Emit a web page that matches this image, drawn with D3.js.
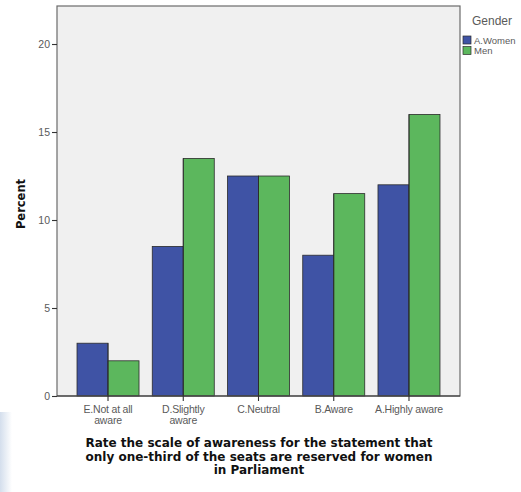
<!DOCTYPE html>
<html>
<head>
<meta charset="utf-8">
<script src="https://cdn.jsdelivr.net/npm/d3@7"></script>
<style>
  html, body { margin: 0; padding: 0; background: #ffffff; }
  svg { display: block; }
</style>
</head>
<body>
<script>
const categories = ["E.Not at all aware", "D.Slightly aware", "C.Neutral", "B.Aware", "A.Highly aware"];
const categoryLines = [["E.Not at all", "aware"], ["D.Slightly", "aware"], ["C.Neutral"], ["B.Aware"], ["A.Highly aware"]];
const seriesNames = ["A.Women", "Men"];
const womenValues = [3.0, 8.5, 12.5, 8.0, 12.0];
const menValues = [2.0, 13.5, 12.5, 11.5, 16.0];
const yTicks = [0, 5, 10, 15, 20];
const legendTitle = "Gender";
const yTitle = "Percent";
const xTitleLines = ["Rate the scale of awareness for the statement that", "only one-third of the seats are reserved for women", "in Parliament"];

const W = 521, H = 492;
const plot = { left: 57, right: 460, top: 6, bottom: 396 };
const colors = ["#3f53a5", "#5cb75d"];

const svg = d3.select("body").append("svg").attr("width", W).attr("height", H);

// faint artifact at bottom-left
const defs = svg.append("defs");
const grad = defs.append("linearGradient").attr("id", "lb").attr("x1", 0).attr("x2", 1).attr("y1", 0).attr("y2", 0);
grad.append("stop").attr("offset", "0%").attr("stop-color", "#c9d6e8");
grad.append("stop").attr("offset", "100%").attr("stop-color", "#ffffff");
svg.append("rect").attr("x", 0).attr("y", 412).attr("width", 12).attr("height", 80).attr("fill", "url(#lb)").attr("opacity", 0.8);

const x = d3.scaleBand().domain(categories).range([plot.left, plot.right]).paddingInner(0.176).paddingOuter(0.266);
const xs = d3.scaleBand().domain(seriesNames).range([0, x.bandwidth()]);
const y = d3.scaleLinear().domain([0, 22.16]).range([plot.bottom, plot.top]);

// plot background
svg.append("rect").attr("x", plot.left).attr("y", plot.top)
  .attr("width", plot.right - plot.left).attr("height", plot.bottom - plot.top)
  .attr("fill", "#f0f0f0");

const rows = categories.map((c, i) => ({ cat: c, vals: [womenValues[i], menValues[i]] }));
const g = svg.append("g");
rows.forEach(r => {
  r.vals.forEach((v, j) => {
    g.append("rect")
      .attr("x", x(r.cat) + xs(seriesNames[j]))
      .attr("y", y(v))
      .attr("width", xs.bandwidth())
      .attr("height", y(0) - y(v))
      .attr("fill", colors[j])
      .attr("stroke", "#2b2b2b")
      .attr("stroke-width", 0.8);
  });
});

// plot frame
svg.append("rect").attr("x", plot.left).attr("y", plot.top)
  .attr("width", plot.right - plot.left).attr("height", plot.bottom - plot.top)
  .attr("fill", "none").attr("stroke", "#6b6b6b").attr("stroke-width", 1.2);

const tickFont = "Liberation Sans, Arial, sans-serif";

// y axis
const yAxis = svg.append("g").attr("transform", `translate(${plot.left},0)`)
  .call(d3.axisLeft(y).tickValues(yTicks).tickSize(5).tickPadding(2));
yAxis.select(".domain").remove();
yAxis.selectAll("line").attr("stroke", "#333").attr("stroke-width", 1.1);
yAxis.selectAll("text").attr("fill", "#5a5a5a").style("font-family", tickFont).style("font-size", "10.5px");

// x axis
const xAxis = svg.append("g").attr("transform", `translate(0,${plot.bottom})`)
  .call(d3.axisBottom(x).tickSize(5).tickFormat(""));
xAxis.select(".domain").attr("stroke", "#333").attr("stroke-width", 1.2).attr("d", `M${plot.left},0H${plot.right}`);
xAxis.selectAll("line").attr("stroke", "#333").attr("stroke-width", 1.1);
// center line through bar boundary
rows.forEach((r, i) => {
  const cx = x(r.cat) + x.bandwidth() / 2;
  const tb = Math.min(y(womenValues[i]), y(menValues[i]));
  svg.append("line").attr("x1", cx).attr("x2", cx).attr("y1", tb).attr("y2", plot.bottom)
    .attr("stroke", "#2b2b2b").attr("stroke-width", 0.8);
});
xAxis.selectAll(".tick").each(function(d, i) {
  const t = d3.select(this).append("text")
    .attr("fill", "#5a5a5a").attr("text-anchor", "middle")
    .style("font-family", tickFont).style("font-size", "10.5px").style("letter-spacing", "-0.2px");
  categoryLines[i].forEach((ln, k) => {
    t.append("tspan").attr("x", 0).attr("y", 17 + k * 11).text(ln);
  });
});

// y title
svg.append("text")
  .attr("transform", `translate(25,${(plot.top + plot.bottom) / 2 + 3}) rotate(-90)`)
  .attr("text-anchor", "middle")
  .style("font-family", "DejaVu Sans, sans-serif").style("font-weight", "bold").style("font-size", "11.5px")
  .attr("fill", "#111").text(yTitle);

// x title
const xt = svg.append("text").attr("text-anchor", "middle")
  .style("font-family", "DejaVu Sans, sans-serif").style("font-weight", "bold").style("font-size", "12px")
  .attr("fill", "#111");
xTitleLines.forEach((ln, k) => {
  xt.append("tspan").attr("x", 259).attr("y", 447 + k * 13.5).text(ln);
});

// legend
svg.append("text").attr("x", 472).attr("y", 25).attr("fill", "#5a5a5a")
  .style("font-family", tickFont).style("font-size", "12px").text(legendTitle);
seriesNames.forEach((s, j) => {
  svg.append("rect").attr("x", 463).attr("y", 36 + j * 10.5).attr("width", 8).attr("height", 8)
    .attr("fill", colors[j]).attr("stroke", "#2b2b2b").attr("stroke-width", 0.7);
  svg.append("text").attr("x", 474).attr("y", 43.5 + j * 10.5).attr("fill", "#5a5a5a")
    .style("font-family", tickFont).style("font-size", "9.5px")
    .style("letter-spacing", "0px").text(s);
});
</script>
</body>
</html>
